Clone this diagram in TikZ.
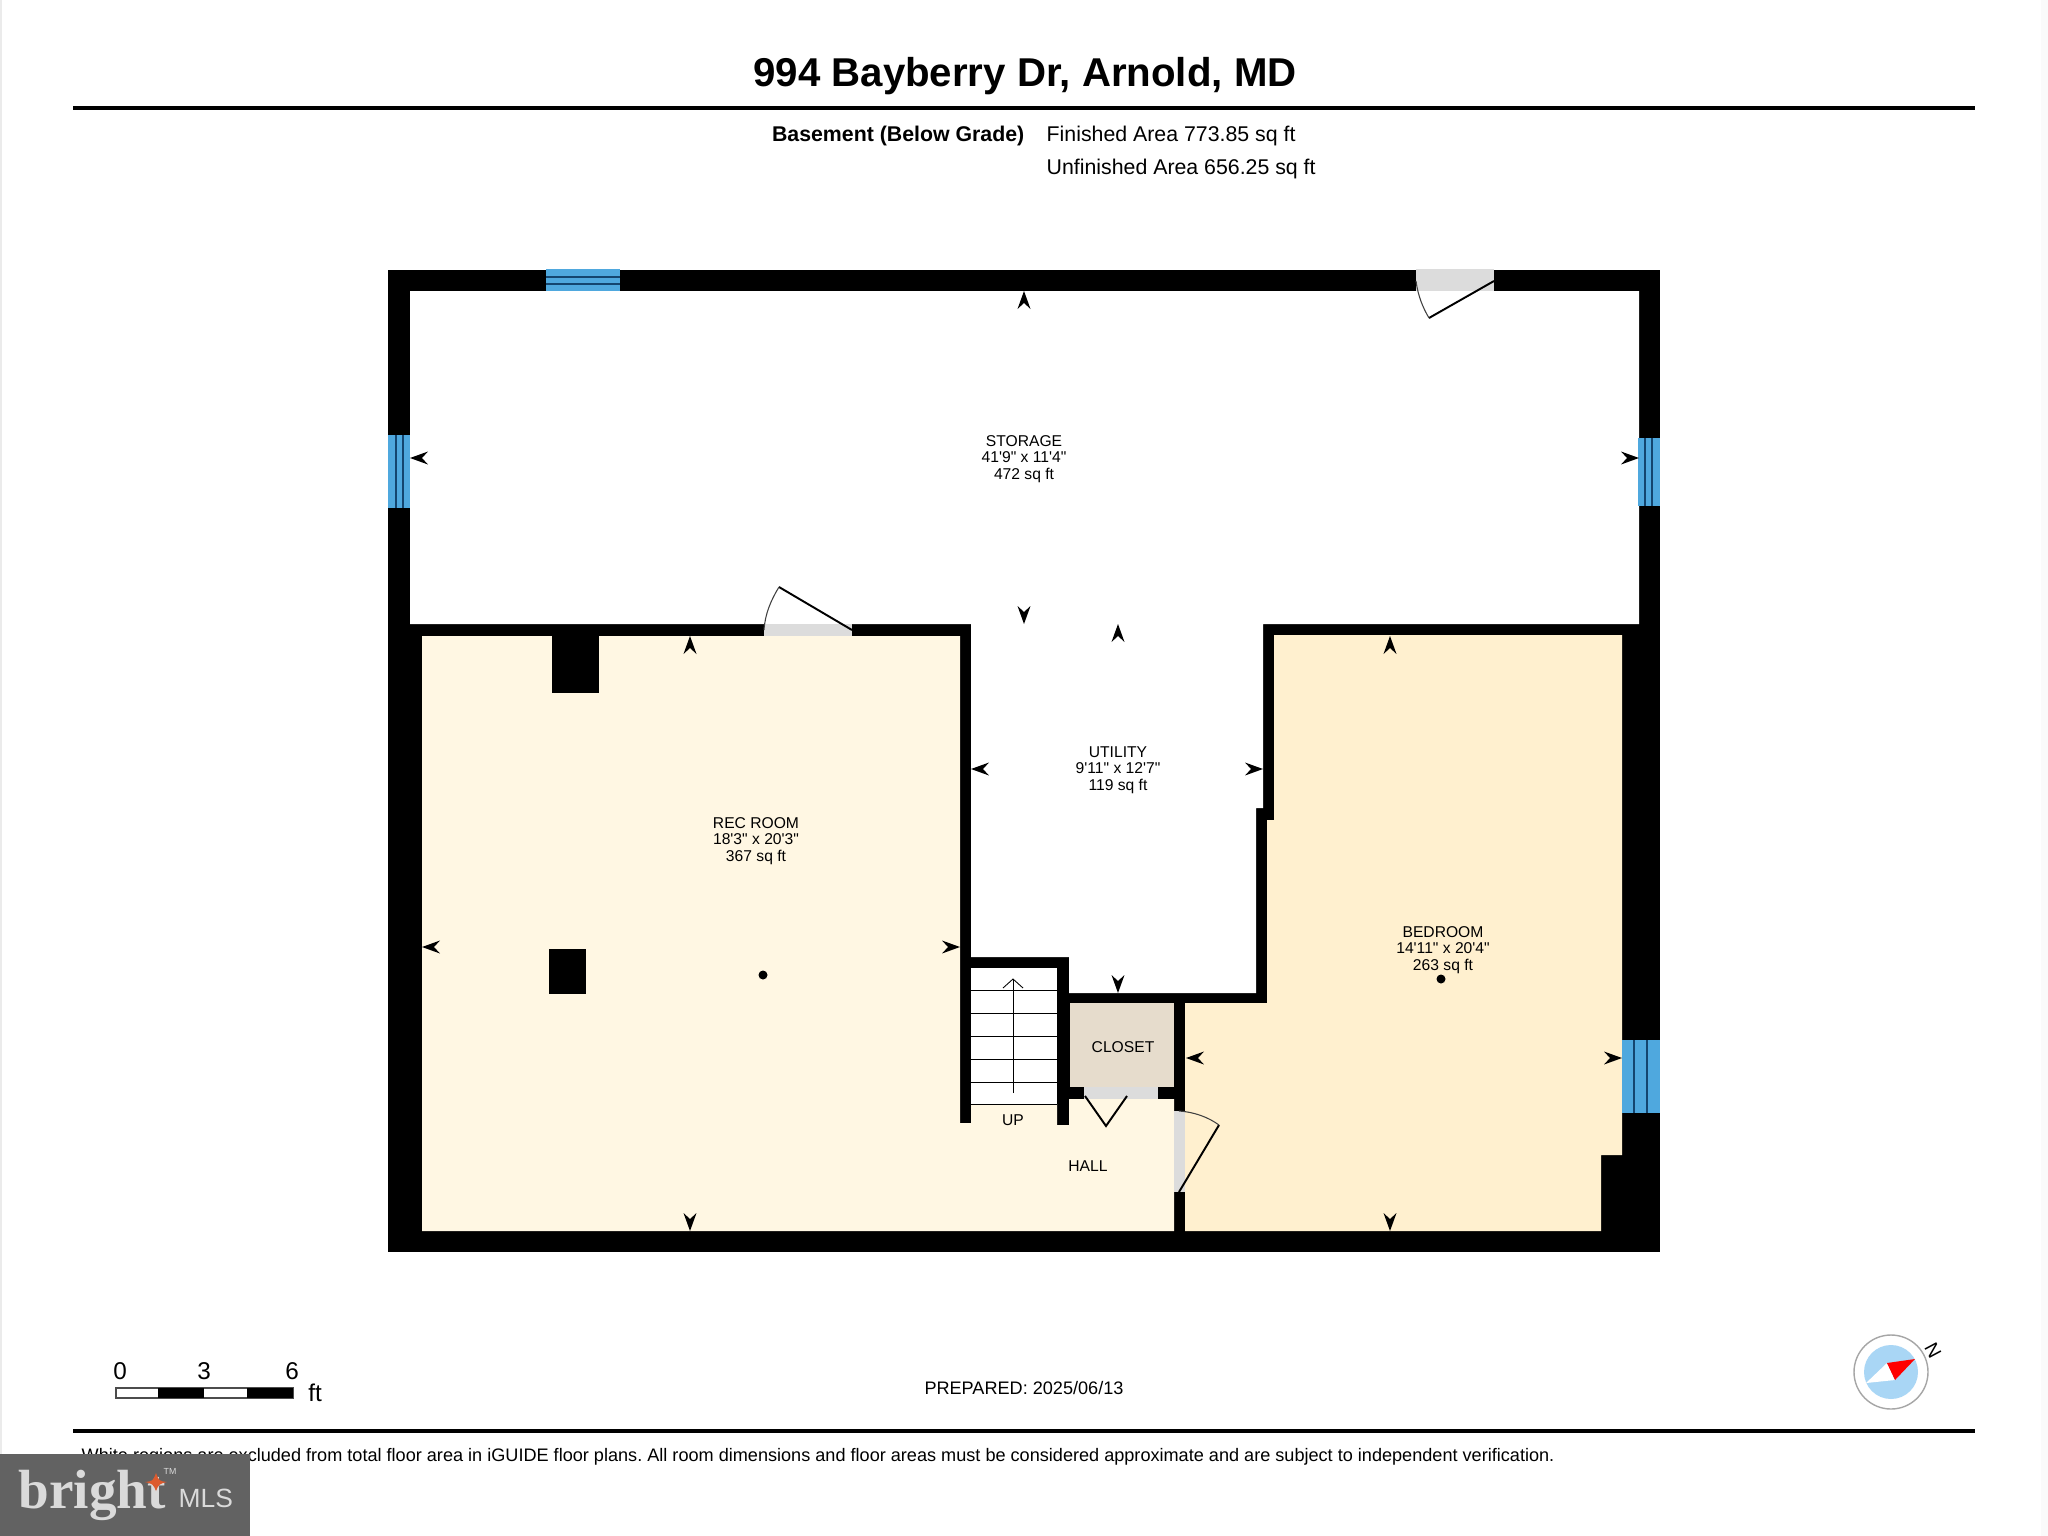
\documentclass[tikz,border=0pt]{standalone}
\usepackage{fontspec}
\setmainfont{Liberation Sans}
\newfontfamily\plainfont{Liberation Sans}
\newfontfamily\logofont{Liberation Serif}
\definecolor{recfill}{HTML}{FFF7E3}
\definecolor{bedfill}{HTML}{FFF0CF}
\definecolor{closetfill}{HTML}{E6DCCC}
\definecolor{doorfill}{HTML}{DCDCDC}
\definecolor{winfill}{HTML}{4FA8DE}
\definecolor{winline}{HTML}{14456F}
\definecolor{compassfill}{HTML}{A9D6F5}
\definecolor{logofill}{HTML}{626262}
\definecolor{logotext}{HTML}{DADADA}
\definecolor{starfill}{HTML}{DC5A2E}
\tikzset{
  roomlabel/.style={align=center,inner sep=0pt,font=\plainfont\fontsize{4.45}{4.7}\selectfont},
  headtext/.style={inner sep=0pt,font=\fontsize{6.06}{7}\selectfont},
  scaletext/.style={inner sep=0pt,font=\fontsize{6.9}{7}\selectfont},
  foottext/.style={inner sep=0pt,font=\frenchspacing\fontsize{5.15}{6}\selectfont},
  doorleaf/.style={line width=0.55pt},
  doorarc/.style={line width=0.3pt,black!75},
  rulebar/.style={line width=1pt},
  winbar/.style={line width=0.4pt,winline},
  stairline/.style={line width=0.25pt},
}
\begin{document}
\begin{tikzpicture}[x=0.01cm,y=-0.01cm]
  \useasboundingbox (0,0) rectangle (2048,1536);
  \fill[white] (0,0) rectangle (2048,1536);
  \fill[black!8] (0,0) rectangle (2,1536);
  \fill[black!2] (2041,0) rectangle (2048,1536);
  \def\mywalls{(388,270) rectangle (1660,1252)}
  % heading
  \node[inner sep=0pt,font=\fontsize{11.44}{13}\selectfont\bfseries] (title) at (1025,76) {994 Bayberry Dr, Arnold, MD};
  \draw[rulebar] (73,108) coordinate (ruleA) -- (1975,108) coordinate (ruleB);
  \node[headtext,anchor=east,font=\fontsize{6.06}{7}\selectfont\bfseries] (level) at (1025,136) {Basement (Below Grade)};
  \node[headtext,anchor=west] (finished) at (1046,136) {Finished Area 773.85 sq ft};
  \node[headtext,anchor=west] (unfinished) at (1046,169) {Unfinished Area 656.25 sq ft};
  % floor
  \fill \mywalls ;
  \fill[white] (410,291) -- (1639,291) -- (1639,624) -- (1263,624) -- (1263,808) -- (1256,808) -- (1256,993) -- (1069,993) -- (1069,957) -- (971,957) -- (971,624) -- (410,624) -- cycle;
  \fill[recfill] (422,636) -- (960,636) -- (960,1123) -- (971,1123) -- (971,1104) -- (1057,1104) -- (1057,1125) -- (1069,1125) -- (1069,1099) -- (1174,1099) -- (1174,1231) -- (422,1231) -- cycle;
  \fill[bedfill] (1274,635) -- (1622,635) -- (1622,1155) -- (1601,1155) -- (1601,1231) -- (1185,1231) -- (1185,1003) -- (1267,1003) -- (1267,820) -- (1274,820) -- cycle;
  \fill[closetfill] (1070,1003) rectangle (1174,1087);
  \fill (552,636) rectangle (599,693);
  \fill (549,949) rectangle (586,994);
  % stairs
  \fill[white] (971,968) rectangle (1057,1104);
  \foreach \ty in {990,1013,1036,1059,1082,1104}
    \draw[stairline] (971,\ty) -- (1057,\ty);
  \draw[stairline] (1013,1093) -- (1013,979);
  \draw[stairline] (1003,988) -- (1013,979) -- (1023,988);
  % windows
  \fill[winfill] (546,269) rectangle (620,291);
  \draw[winbar] (546,277) -- (620,277) (546,284) -- (620,284);
  \fill[winfill] (388,435) rectangle (410,508);
  \draw[winbar] (396,435) -- (396,508) (403,435) -- (403,508);
  \fill[winfill] (1638,438) rectangle (1660,506);
  \draw[winbar] (1645,438) -- (1645,506) (1652,438) -- (1652,506);
  \fill[winfill] (1622,1040) rectangle (1660,1113);
  \draw[winbar] (1634,1040) -- (1634,1113) (1647,1040) -- (1647,1113);
  % doors
  \fill[doorfill] (1416,269) rectangle (1494,291);
  \draw[doorleaf] (1494,281) -- (1429,318);
  \draw[doorarc] (1416,281) .. controls (1418,296) and (1423,308) .. (1429,318);
  \fill[doorfill] (764,624) rectangle (852,636);
  \draw[doorleaf] (852,630) -- (779,587);
  \draw[doorarc] (764,630) .. controls (765,614) and (771,600) .. (779,587);
  \fill[doorfill] (1084,1087) rectangle (1158,1099);
  \draw[doorleaf] (1085,1096) -- (1106,1126) -- (1127,1096);
  \fill[doorfill] (1174,1111) rectangle (1185,1192);
  \draw[doorleaf] (1179,1192) -- (1219,1125);
  \draw[doorarc] (1179,1111) .. controls (1194,1112) and (1208,1117) .. (1219,1125);
  % dimension ticks
  \foreach \px/\py/\ang in {1024/291/90,410/458/180,1639/458/0,1024/624/-90,
      1118/624/90,971/769/180,1263/769/0,1118/993/-90,
      690/636/90,422/947/180,960/947/0,690/1231/-90,
      1390/636/90,1186/1058/180,1622/1058/0,1390/1231/-90}
    \fill[shift={(\px,\py)},rotate=\ang,x=0.01cm,y=0.01cm] (0,0) -- (-18,-6.5) -- (-12,0) -- (-18,6.5) -- cycle;
  \fill (763,975) circle (4.5);
  \fill (1441,979) circle (4.5);
  % room labels
  \node[roomlabel] (storage) at (1024,459) {STORAGE\\41'9" x 11'4"\\472 sq ft};
  \node[roomlabel] (utility) at (1118,770) {UTILITY\\9'11" x 12'7"\\119 sq ft};
  \node[roomlabel] (recroom) at (756,841) {REC ROOM\\18'3" x 20'3"\\367 sq ft};
  \node[roomlabel] (bedroom) at (1443,950) {BEDROOM\\14'11" x 20'4"\\263 sq ft};
  \node[roomlabel] (closet) at (1123,1047) {CLOSET};
  \node[roomlabel] (up) at (1013,1120) {UP};
  \node[roomlabel] (hall) at (1088,1166) {HALL};
  % scale bar
  \draw[line width=0.3pt,black!70,fill=white] (116,1388) rectangle (293,1398);
  \fill (158,1388) rectangle (204,1398);
  \fill (247,1388) rectangle (293,1398);
  \node[scaletext] (zero) at (120,1371) {0};
  \node[scaletext] (three) at (204,1371) {3};
  \node[scaletext] (six) at (292,1371) {6};
  \node[scaletext] (feet) at (315,1393) {ft};
  % compass
  \draw[line width=0.4pt,black!35] (1891,1372) circle (37);
  \fill[compassfill] (1891,1372) circle (27);
  \fill[white] (1866,1383) -- (1887,1363) -- (1895,1380) -- cycle;
  \fill[red] (1887,1363) -- (1915,1359) -- (1895,1380) -- cycle;
  \node[inner sep=0pt,rotate=-62,font=\fontsize{5.5}{6}\selectfont] (north) at (1933,1351) {N};
  % footer
  \node[foottext] (prepared) at (1024,1388) {PREPARED: 2025/06/13};
  \draw[rulebar] (73,1431) coordinate (ruleC) -- (1975,1431) coordinate (ruleD);
  \node[foottext,anchor=west] (disclaimer) at (81,1457) {White regions are excluded from total floor area in iGUIDE floor plans. All room dimensions and floor areas must be considered approximate and are subject to independent verification.};
  % logo
  \fill[logofill] (0,1454) rectangle (250,1536);
  \node[anchor=base west,inner sep=0pt,text=logotext,font=\logofont\fontsize{15.7}{16}\selectfont\bfseries] (bright) at (18,1508) {bright};
  \node[anchor=base west,inner sep=0pt,text=logotext,font=\fontsize{7.5}{8}\selectfont] (mls) at (178,1507) {MLS};
  \node[inner sep=0pt,text=logotext,font=\fontsize{2.5}{3}\selectfont] (tm) at (170,1471) {TM};
  \fill[starfill] (145,1482) .. controls (153,1481) .. (156,1473) .. controls (159,1481) .. (167,1482) .. controls (159,1484) .. (156,1491) .. controls (153,1484) .. cycle;
\end{tikzpicture}
\end{document}
